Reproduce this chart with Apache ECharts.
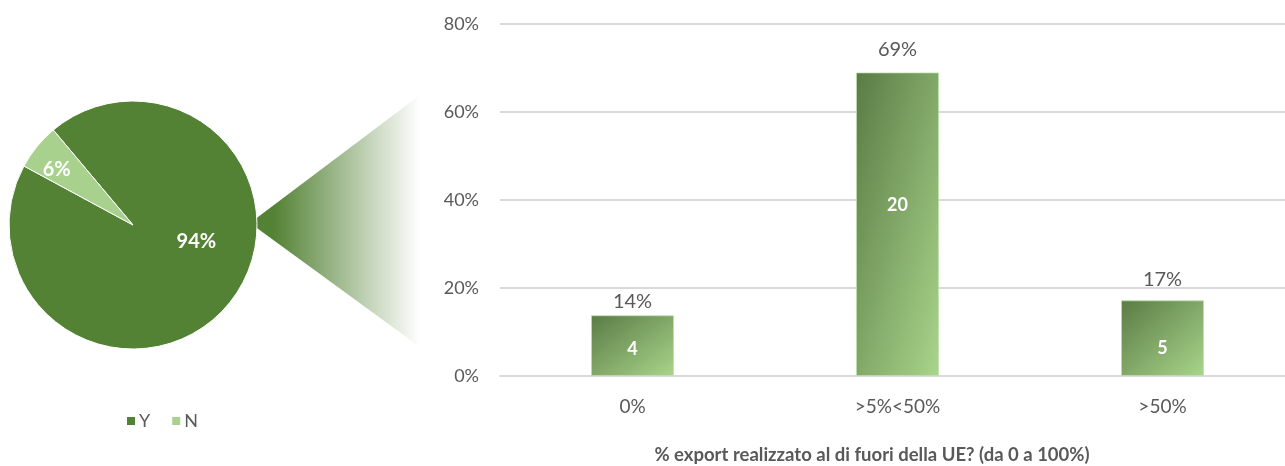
<!DOCTYPE html>
<html>
<head>
<meta charset="utf-8">
<style>
  html, body { margin: 0; padding: 0; background: #ffffff; }
  #chart { width: 1285px; height: 466px; }
</style>
<script src="https://cdn.jsdelivr.net/npm/echarts@6/dist/echarts.min.js"></script>
</head>
<body>
<div id="chart"></div>
<script>
// Pie: companies exporting (Y) or not (N)
const pieNames = ['Y', 'N'];
const pieShares = [94, 6];

// Bars: share of export outside the EU, with number of companies per band
const barCategories = ['0%', '>5%<50%', '>50%'];
const barCounts = [4, 20, 5];
const barShares = [13.8, 69.0, 17.2];

// Y-axis ticks
const yTicks = { min: 0, max: 80, step: 20 };

const axisTitle = '% export realizzato al di fuori della UE? (da 0 a 100%)';

const FONT = 'Lato, "Open Sans", sans-serif';
const GREY = '#595959';
const DARK = '#548235';
const LIGHT = '#a9d18e';

// plot box of the bar chart
const GRID = { left: 500, width: 795, top: 24, height: 352 };
const BAR_W = 83;

// label nudges (px) for the pie, the in-bar counts and the percentages on top
const pieLabelShift = [[13, -25], [-26, -14]];
const countLabelShift = [[0, 4], [0, -19], [0, 10]];
const topLabelShift = [[0, 0], [0, -9], [0, -7]];

const chart = echarts.init(document.getElementById('chart'), null, { renderer: 'canvas' });

// diagonal gradient that scales with the bar: top-left dark, bottom-right light,
// with the other two corners sharing the middle tone
function diagonalFill(w, h) {
  const gx = 1 / (2 * w), gy = 1 / (2 * h);
  const g2 = gx * gx + gy * gy;
  return new echarts.graphic.LinearGradient(0, 0, gx / g2 / w, gy / g2 / h, [
    { offset: 0, color: '#5a7b45' },
    { offset: 1, color: '#a9d58b' }
  ]);
}

const barData = barShares.map((v, i) => {
  const h = (v - yTicks.min) / (yTicks.max - yTicks.min) * GRID.height;
  return {
    value: v,
    itemStyle: { color: diagonalFill(BAR_W, h) },
    label: {
      show: true,
      position: 'inside',
      offset: countLabelShift[i],
      formatter: String(barCounts[i]),
      color: '#ffffff',
      fontFamily: FONT,
      fontSize: 18,
      fontWeight: 'bold'
    }
  };
});

const option = {
  animation: false,
  backgroundColor: '#ffffff',
  textStyle: { fontFamily: FONT },
  legend: {
    data: pieNames,
    left: 120,
    top: 407,
    itemWidth: 10,
    itemHeight: 10,
    itemGap: 20,
    icon: 'rect',
    textStyle: { fontFamily: FONT, fontSize: 18, color: GREY, padding: [0, 0, 0, -2] }
  },
  graphic: [
    {
      type: 'polygon',
      z: 0,
      shape: { points: [[250, 223], [420, 95], [420, 347]] },
      style: {
        fill: new echarts.graphic.LinearGradient(0, 0, 1, 0, [
          { offset: 0, color: DARK },
          { offset: 0.14, color: DARK },
          { offset: 1, color: 'rgba(84,130,53,0)' }
        ])
      }
    },
    {
      type: 'text',
      x: 872,
      y: 455,
      style: {
        text: axisTitle,
        textAlign: 'center',
        textVerticalAlign: 'middle',
        fill: GREY,
        font: 'bold 18.5px ' + FONT
      }
    }
  ],
  grid: {
    left: GRID.left,
    width: GRID.width,
    top: GRID.top,
    height: GRID.height,
    containLabel: false,
    outerBoundsMode: 'none'
  },
  xAxis: {
    type: 'category',
    data: barCategories,
    axisLine: { show: true, lineStyle: { color: '#d9d9d9', width: 2 } },
    axisTick: { show: false },
    axisLabel: { color: GREY, fontSize: 19, fontFamily: FONT, margin: 21 }
  },
  yAxis: {
    type: 'value',
    min: yTicks.min,
    max: yTicks.max,
    interval: yTicks.step,
    axisLine: { show: false },
    axisTick: { show: false },
    axisLabel: { color: GREY, fontSize: 18, fontFamily: FONT, margin: 21, formatter: '{value}%' },
    splitLine: { lineStyle: { color: '#d9d9d9', width: 2 } }
  },
  series: [
    {
      type: 'pie',
      name: 'export',
      center: [133, 225],
      radius: 124,
      startAngle: 130,
      clockwise: true,
      z: 3,
      avoidLabelOverlap: false,
      data: pieNames.map((n, i) => ({ name: n, value: pieShares[i] })),
      color: [DARK, LIGHT],
      itemStyle: { borderColor: '#ffffff', borderWidth: 1 },
      label: {
        show: true,
        position: 'inside',
        color: '#ffffff',
        fontFamily: FONT,
        fontSize: 20,
        fontWeight: 'bold',
        formatter: p => p.value + '%'
      },
      labelLine: { show: false },
      labelLayout: p => ({ dx: pieLabelShift[p.dataIndex][0], dy: pieLabelShift[p.dataIndex][1] }),
      emphasis: { disabled: true }
    },
    {
      type: 'bar',
      name: 'quota',
      barWidth: BAR_W,
      data: barData,
      itemStyle: { borderColor: 'rgba(190,225,170,0.7)', borderWidth: 1 },
      emphasis: { disabled: true }
    },
    {
      // percentage labels above each bar, same values as the bars
      type: 'bar',
      name: 'etichette',
      barWidth: BAR_W,
      barGap: '-100%',
      z: 1,
      data: barShares.map((v, i) => ({ value: v, label: { offset: topLabelShift[i] } })),
      itemStyle: { color: 'rgba(0,0,0,0)' },
      label: {
        show: true,
        position: 'top',
        distance: 4,
        color: GREY,
        fontFamily: FONT,
        fontSize: 20,
        formatter: p => Math.round(p.value) + '%'
      },
      emphasis: { disabled: true },
      silent: true
    }
  ]
};

chart.setOption(option);
</script>
</body>
</html>
